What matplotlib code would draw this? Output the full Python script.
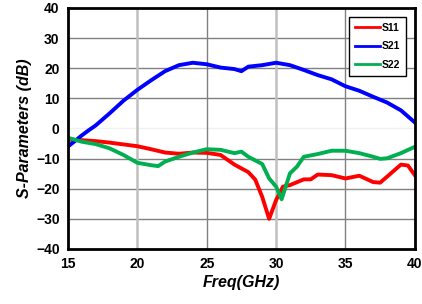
import matplotlib.pyplot as plt

plt.rcParams['font.family'] = ['Liberation Sans', 'DejaVu Sans']
plt.rcParams['font.weight'] = 'bold'

# values
freq_s21 = [15, 15.5, 16, 16.5, 17, 18, 19, 20, 21, 22, 23, 24, 25, 26, 27, 27.5, 28, 29, 30, 31, 32, 33, 34, 35, 36, 37, 38, 39, 40]
s21 = [-6, -4.2, -2.3, -0.6, 1, 5, 9.2, 12.8, 16, 19, 21, 21.8, 21.3, 20.2, 19.7, 19, 20.5, 21, 21.8, 21, 19.4, 17.7, 16.3, 14, 12.5, 10.5, 8.6, 6, 2]

freq_s11 = [15, 16, 17, 18, 19, 20, 21, 22, 23, 24, 25, 26, 27, 28, 28.5, 29, 29.5, 30, 30.5, 31, 32, 32.5, 33, 34, 35, 36, 37, 37.5, 38, 39, 39.5, 40]
s11 = [-3.7, -3.9, -4.2, -4.7, -5.3, -5.9, -6.9, -8, -8.4, -8, -8.1, -8.8, -12, -14.5, -17, -22.7, -30, -23.8, -19.3, -18.8, -16.9, -16.9, -15.3, -15.5, -16.6, -15.7, -17.8, -18, -16, -12, -12.3, -15.5]

freq_s22 = [15, 16, 17, 18, 19, 20, 21, 21.5, 22, 23, 24, 25, 26, 27, 27.5, 28, 29, 29.5, 30, 30.4, 31, 31.5, 32, 33, 34, 35, 36, 37, 37.5, 38, 39, 40]
s22 = [-3.1, -4.4, -5.2, -6.6, -8.8, -11.4, -12.2, -12.5, -11, -9.4, -8, -6.9, -7.1, -8.2, -7.7, -9.4, -11.8, -16.6, -19.3, -23.5, -14.9, -12.7, -9.4, -8.5, -7.4, -7.4, -8.2, -9.4, -10.1, -9.9, -8.2, -6.1]

fig = plt.figure(figsize=(4.22, 3.04), dpi=100)
ax = fig.add_axes([0.161, 0.181, 0.822, 0.793])

# grid: odd-looking mix of colours in the original
for y in [-30, -20, -10, 10, 20, 30]:
    ax.axhline(y, color='#808080', lw=1, zorder=0)
ax.axhline(0, color='#f0f0f0', lw=1, zorder=0)
for x in [20, 30]:
    ax.axvline(x, color='#c0c0c0', lw=1.8, zorder=0)
for x in [25, 35]:
    ax.axvline(x, color='#808080', lw=1, zorder=0)

ax.plot(freq_s11, s11, color='#ff0000', lw=2.8, label='S11')
ax.plot(freq_s21, s21, color='#0000ff', lw=2.8, label='S21')
ax.plot(freq_s22, s22, color='#00b050', lw=2.8, label='S22')

ax.set_xlim(15, 40)
ax.set_ylim(-40, 40)
ax.set_xticks([15, 20, 25, 30, 35, 40])
ax.set_yticks(range(-40, 41, 10))
ax.tick_params(length=0, labelsize=10, pad=6)
for s in ax.spines.values():
    s.set_linewidth(2)
    s.set_color('black')

ax.set_xlabel('Freq(GHz)', fontsize=11.5, fontweight='bold', style='italic', labelpad=3)
ax.set_ylabel('S-Parameters (dB)', fontsize=11.5, fontweight='bold', style='italic', labelpad=3)

leg = ax.legend(loc='upper right', fontsize=7.5, handlelength=2.4, handletextpad=0.1,
                borderpad=0.6, labelspacing=0.8, fancybox=False, framealpha=1,
                bbox_to_anchor=(0.99, 0.985))
leg.get_frame().set_edgecolor('black')
leg.get_frame().set_linewidth(1)
for h in leg.get_lines():
    h.set_linewidth(2)

fig.savefig('out.png', dpi=100)
